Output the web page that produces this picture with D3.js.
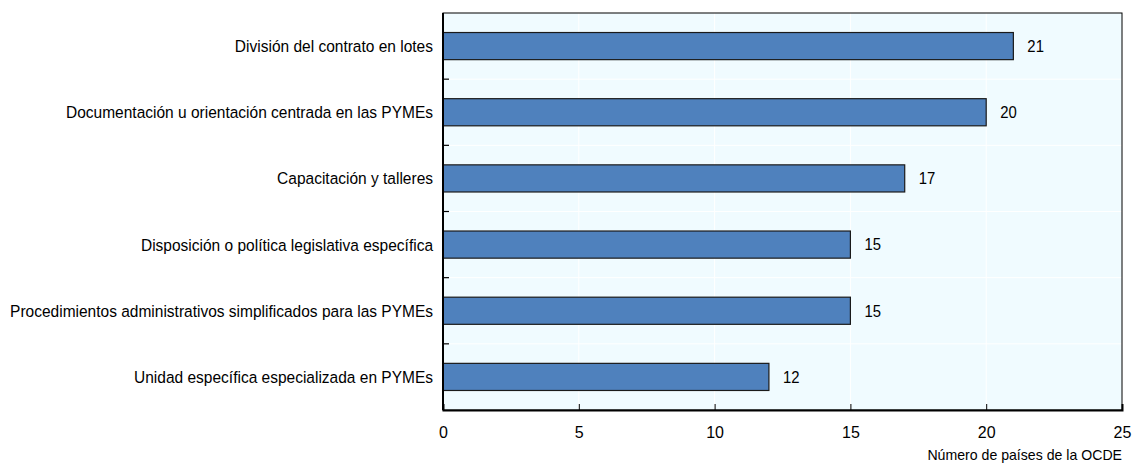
<!DOCTYPE html>
<html>
<head>
<meta charset="utf-8">
<script src="https://d3js.org/d3.v7.min.js"></script>
<style>
  body { margin: 0; background: #fff; }
  text { font-family: "Liberation Sans", Arial, sans-serif; fill: #000; }
</style>
</head>
<body>
<div id="chart"></div>
<script>
var categories = [
  "División del contrato en lotes",
  "Documentación u orientación centrada en las PYMEs",
  "Capacitación y talleres",
  "Disposición o política legislativa específica",
  "Procedimientos administrativos simplificados para las PYMEs",
  "Unidad específica especializada en PYMEs"
];
var values = [21, 20, 17, 15, 15, 12];
var xTicks = [0, 5, 10, 15, 20, 25];
var xTitle = "Número de países de la OCDE";

var margin = {top: 13, right: 11, bottom: 54, left: 443},
    width = 1133 - margin.left - margin.right,
    height = 464 - margin.top - margin.bottom;

var svg = d3.select("#chart").append("svg")
    .attr("width", 1133)
    .attr("height", 464);

var g = svg.append("g")
    .attr("transform", "translate(" + margin.left + "," + margin.top + ")");

var x = d3.scaleLinear().domain([0, 25]).range([0, width]);
var y = d3.scaleBand().domain(categories).range([0, height]).paddingInner(0.59).paddingOuter(0.295);
var yb = d3.scaleBand().domain(categories).range([0, height]);

// background
g.append("rect")
    .attr("width", width)
    .attr("height", height)
    .attr("fill", "#f0fbff");

// grid lines
g.selectAll(".vgrid").data(xTicks.slice(1, -1)).enter()
    .append("line")
    .attr("x1", d => x(d)).attr("x2", d => x(d))
    .attr("y1", 0).attr("y2", height)
    .attr("stroke", "#fff").attr("stroke-width", 1);

g.selectAll(".hgrid").data(categories.slice(1)).enter()
    .append("line")
    .attr("x1", 0).attr("x2", width)
    .attr("y1", d => yb(d)).attr("y2", d => yb(d))
    .attr("stroke", "#fff").attr("stroke-width", 1);

// bars
g.selectAll(".bar").data(values).enter()
    .append("rect")
    .attr("x", x(0))
    .attr("y", (d, i) => y(categories[i]))
    .attr("width", d => x(d) - x(0))
    .attr("height", y.bandwidth())
    .attr("fill", "#4f81bd")
    .attr("stroke", "#1a1a1a")
    .attr("stroke-width", 1.2);

// value labels
g.selectAll(".val").data(values).enter()
    .append("text")
    .attr("transform", (d, i) => "translate(" + (x(d) + 14) + "," + (y(categories[i]) + y.bandwidth() / 2) + ") scale(0.93,1)")
    .attr("dy", "0.36em")
    .style("font-size", "16px")
    .text(d => d);

// frame
g.append("rect")
    .attr("width", width)
    .attr("height", height)
    .attr("fill", "none")
    .attr("stroke", "#000")
    .attr("stroke-width", 1);

// left axis: ticks between categories, inside
g.append("line")
    .attr("x1", 0).attr("x2", 0).attr("y1", 0).attr("y2", height)
    .attr("stroke", "#000").attr("stroke-width", 2);
g.selectAll(".ytick").data(categories.slice(1)).enter()
    .append("line")
    .attr("x1", 0).attr("x2", 6)
    .attr("y1", d => yb(d)).attr("y2", d => yb(d))
    .attr("stroke", "#000").attr("stroke-width", 1.2);

// category labels, slightly condensed
g.selectAll(".ylab").data(categories).enter()
    .append("text")
    .attr("transform", d => "translate(-10," + (yb(d) + yb.bandwidth() / 2) + ") scale(0.94,1)")
    .attr("dy", "0.36em")
    .attr("text-anchor", "end")
    .style("font-size", "16.5px")
    .text(d => d);

// bottom axis
var xAxis = d3.axisBottom(x).tickValues(xTicks).tickSize(-6).tickPadding(17);
var xa = g.append("g")
    .attr("transform", "translate(0," + height + ")")
    .call(xAxis);
xa.select(".domain").attr("stroke-width", 2);
xa.selectAll("text").style("font-size", "16px").style("font-family", "'Liberation Sans', Arial, sans-serif").attr("fill", "#000");

g.append("text")
    .attr("transform", "translate(" + width + "," + (height + 50) + ") scale(0.93,1)")
    .attr("text-anchor", "end")
    .style("font-size", "15.2px")
    .text(xTitle);
</script>
</body>
</html>
